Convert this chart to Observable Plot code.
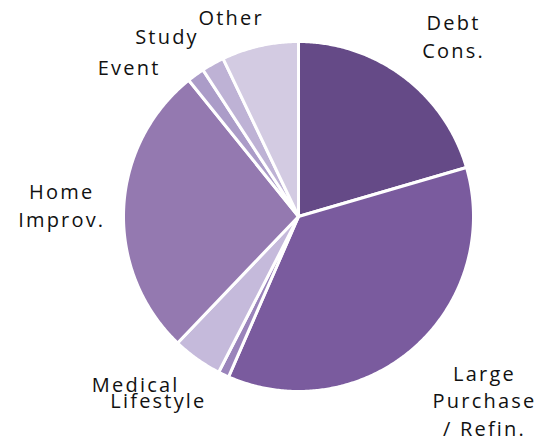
<!DOCTYPE html>
<html>
<head>
<meta charset="utf-8">
<script src="https://cdn.jsdelivr.net/npm/d3@7"></script>
<script src="https://cdn.jsdelivr.net/npm/@observablehq/plot@0.6"></script>
<style>
  html, body { margin: 0; padding: 0; background: #fff; }
  #chart svg { display: block; }
  #chart svg text { letter-spacing: 2.2px; }
</style>
</head>
<body>
<div id="chart"></div>
<script>
// Data (share of loans by purpose, %), clockwise from 12 o'clock
const categories = ["Debt Cons.", "Large Purchase / Refin.", "Lifestyle", "Medical", "Home Improv.", "Event", "Study", "Other"];
const labels = ["Debt\nCons.", "Large\nPurchase\n/ Refin.", "Lifestyle", "Medical", "Home\nImprov.", "Event", "Study", "Other"];
const shares = [20.5, 36.1, 1.0, 4.6, 27.1, 1.6, 2.1, 7.1];
const colors = ["#654a87", "#7a5b9e", "#9a84bb", "#c5badb", "#9479b0", "#ab9cc8", "#beb2d5", "#d3cbe2"];

// Label layout (angle in degrees clockwise from top, radius relative to pie radius)
const labelAngle = [40.7, 135, 217.3, 224.1, 272.5, 311, 323.6, 341];
const labelRadius = [1.35, 1.495, 1.33, 1.345, 1.36, 1.29, 1.276, 1.2];

const total = d3.sum(shares);
const rad = (deg) => deg * Math.PI / 180;
const pt = (deg, r) => [r * Math.sin(rad(deg)), -r * Math.cos(rad(deg))];

let acc = 0;
const slices = categories.map((c, i) => {
  const a0 = acc / total * 360;
  acc += shares[i];
  const a1 = acc / total * 360;
  const ring = [[0, 0]];
  const n = Math.max(2, Math.ceil((a1 - a0) / 0.5));
  for (let k = 0; k <= n; k++) ring.push(pt(a0 + (a1 - a0) * k / n, 1));
  ring.push([0, 0]);
  return {type: "Feature", properties: {category: c, color: colors[i]}, geometry: {type: "Polygon", coordinates: [ring]}};
});

const circle = {type: "Polygon", coordinates: [d3.range(0, 361, 2).map(a => pt(a, 1))]};

const labelData = labels.map((t, i) => {
  const [x, y] = pt(labelAngle[i], labelRadius[i]);
  return {text: t, x, y};
});

const chart = Plot.plot({
  width: 538,
  height: 439,
  margin: 0,
  projection: {
    type: "identity",
    domain: circle,
    clip: false,
    insetLeft: 123,
    insetRight: 65,
    insetTop: 41,
    insetBottom: 48
  },
  style: {fontFamily: "'Open Sans', sans-serif", background: "#fff"},
  marks: [
    Plot.geo(slices, {fill: d => d.properties.color, stroke: "#fff", strokeWidth: 3, strokeLinejoin: "round"}),
    Plot.text(labelData, {x: "x", y: "y", text: "text", fontSize: 20, lineHeight: 1.37, fill: "#111", textAnchor: "middle", dx: 1, dy: -2})
  ]
});
document.getElementById("chart").append(chart);
</script>
</body>
</html>
